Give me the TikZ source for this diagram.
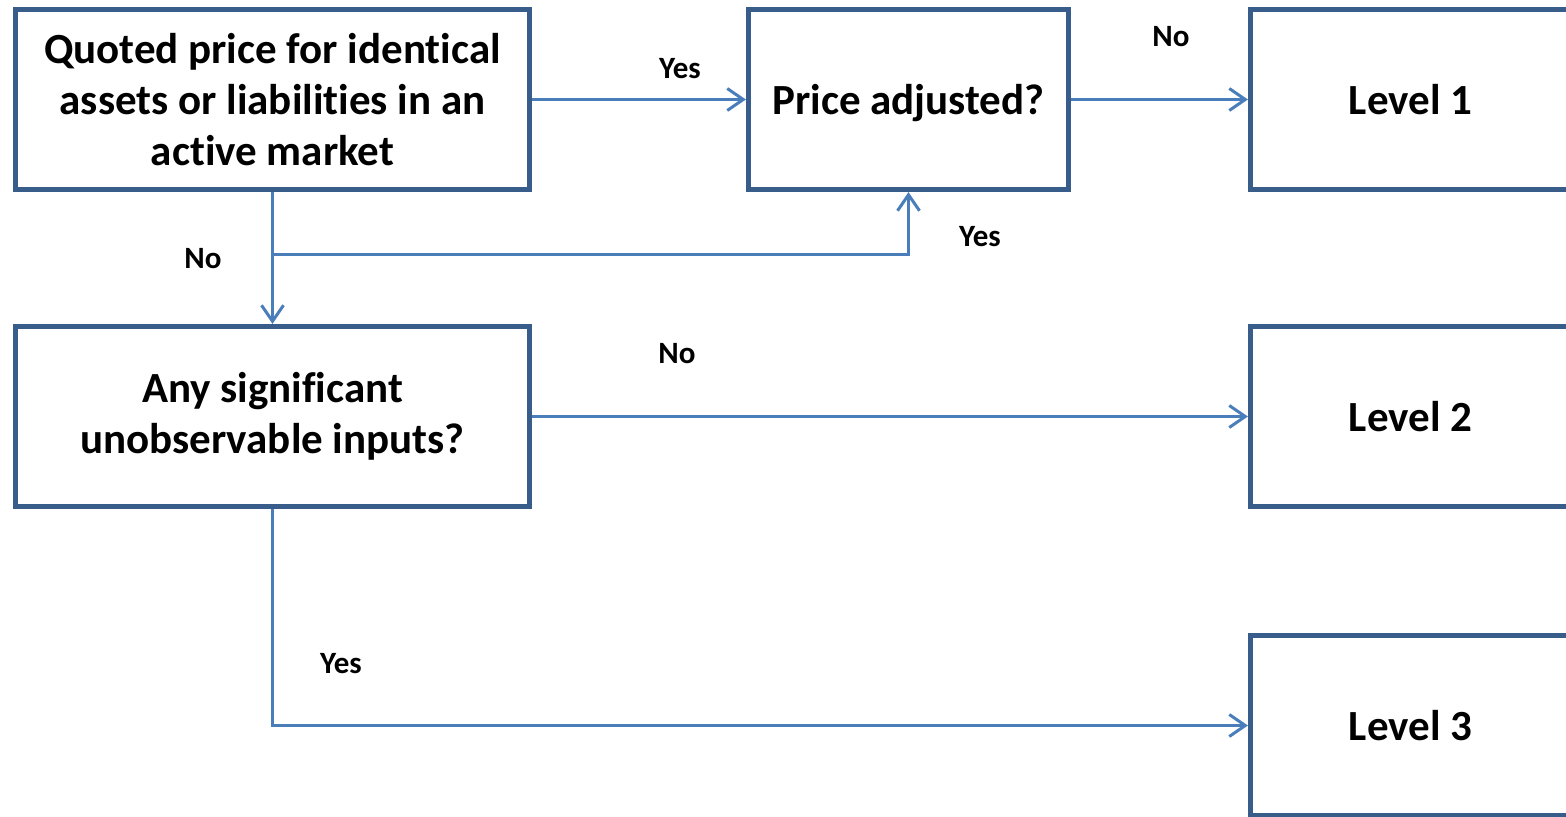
\documentclass[tikz,border=0pt]{standalone}
\usepackage{fontspec}
\setmainfont{Carlito}[Ligatures=NoCommon]
\usepackage{tikz}
\usetikzlibrary{arrows.meta,calc,positioning}
\definecolor{boxline}{HTML}{385D8A}
\definecolor{arrowline}{HTML}{4A7EBB}
\tikzset{
  levelbox/.style={draw=boxline, line width=2.6pt, fill=white, minimum height=90pt,
    inner sep=0pt, align=center, font=\fontsize{21.5}{25.5}\selectfont\bfseries},
  widebox/.style={levelbox, minimum width=257pt},
  smallbox/.style={levelbox, minimum width=160pt},
  flow/.style={draw=arrowline, line width=1.5pt, -{Straight Barb[length=8pt,width=11pt,line width=1.5pt]}},
  answer/.style={font=\fontsize{15.5}{18}\selectfont\bfseries}
}
\begin{document}
\begin{tikzpicture}[x=0.5pt, y=-0.5pt]
            % Fix the page to the picture size
            \useasboundingbox (0,0) rectangle (1566,817);
            % Draw the decision boxes
            \node[widebox] (quote) at (272.5,99.5) {Quoted price for identical\\assets or liabilities in an\\active market};
            \node[smallbox, text depth=0pt] (adjust) at (908.5,99.5) {Price adjusted?};
            \node[widebox] (signif) at (272.5,416.5) {Any significant\\unobservable inputs?};
            % Draw the level boxes
            \node[smallbox] (level1) at (1410.5,99.5) {Level 1};
            \node[smallbox] (level2) at (1410.5,416.5) {Level 2};
            \node[smallbox] (level3) at (1410.5,725.5) {Level 3};
            % Branch points
            \coordinate (split) at ($(quote.south)!0.477!(signif.north)$);
            \coordinate (down) at (signif.south |- level3.west);
            % Connect the boxes
            \draw[flow] (quote.east) -- (adjust.west);
            \draw[flow] (adjust.east) -- (level1.west);
            \draw[flow] (quote.south) -- (signif.north);
            \draw[flow] (split) -| (adjust.south);
            \draw[flow] (signif.east) -- (level2.west);
            \draw[flow] (signif.south) -- (down) -- (level3.west);
            % Label the answers
            \node[answer] (yes1) at (680,69) {Yes};
            \node[answer] (no1) at (1171,37) {No};
            \node[answer] (no2) at (203,259) {No};
            \node[answer] (yes2) at (980,237) {Yes};
            \node[answer] (no3) at (677,354) {No};
            \node[answer] (yes3) at (341,664) {Yes};
          \end{tikzpicture}
\end{document}
